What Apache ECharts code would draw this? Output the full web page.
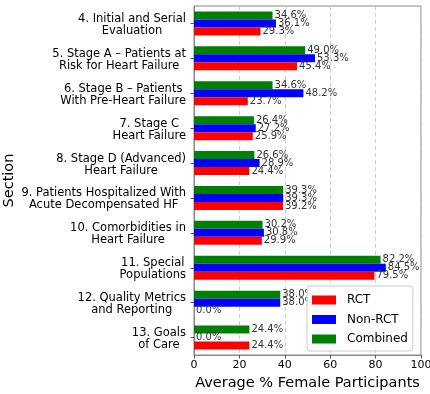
<!DOCTYPE html>
<html><head><meta charset="utf-8">
<script src="https://cdn.jsdelivr.net/npm/echarts@6/dist/echarts.min.js"></script>
<style>html,body{margin:0;padding:0;background:#fff}#c{width:430px;height:394px}</style>
</head><body><div id="c"></div><script>
const categories = [
  "4. Initial and Serial\nEvaluation",
  "5. Stage A – Patients at\nRisk for Heart Failure",
  "6. Stage B – Patients\nWith Pre-Heart Failure",
  "7. Stage C\nHeart Failure",
  "8. Stage D (Advanced)\nHeart Failure",
  "9. Patients Hospitalized With\nAcute Decompensated HF",
  "10. Comorbidities in\nHeart Failure",
  "11. Special\nPopulations",
  "12. Quality Metrics\nand Reporting",
  "13. Goals\nof Care"
];
const rct      = [29.3, 45.4, 23.7, 25.9, 24.4, 39.2, 29.9, 79.5, 0.0, 24.4];
const nonRct   = [36.1, 53.3, 48.2, 27.2, 28.9, 39.3, 30.8, 84.5, 38.0, 0.0];
const combined = [34.6, 49.0, 34.6, 26.4, 26.6, 39.3, 30.2, 82.2, 38.0, 24.4];
const seriesNames = ["RCT", "Non-RCT", "Combined"];
const xTicks = [0, 20, 40, 60, 80, 100];

const FONT = "DejaVu Sans";
function mk(name, data, color) {
  return {
    name: name, type: "bar", data: data,
    barWidth: 8, barGap: "0%",
    itemStyle: { color: color },
    label: {
      show: true, position: "right", distance: 2,
      fontFamily: FONT, fontSize: 10, color: "#333",
      formatter: p => p.value.toFixed(1) + "%"
    }
  };
}
const chart = echarts.init(document.getElementById("c"), null, { renderer: "canvas" });
chart.setOption({
  animation: false,
  backgroundColor: "#fff",
  grid: { left: 194, right: 9, top: 6, bottom: 39, show: true, borderColor: "#888", borderWidth: 1,
          containLabel: false, outerBoundsMode: "none" },
  xAxis: {
    type: "value", min: xTicks[0], max: xTicks[xTicks.length - 1], interval: 20,
    name: "Average % Female Participants", nameLocation: "middle", nameGap: 19,
    nameTextStyle: { fontFamily: FONT, fontSize: 14.5, color: "#000" },
    axisLine: { show: true, lineStyle: { color: "#888" } },
    axisTick: { show: true, length: 3.5, lineStyle: { color: "#555" } },
    axisLabel: { fontFamily: FONT, fontSize: 11, color: "#000", margin: 5 },
    splitLine: { show: true, lineStyle: { color: "#ccc", type: [4, 3] } }
  },
  yAxis: {
    type: "category", data: categories, inverse: true,
    name: "Section", nameLocation: "middle", nameGap: 177, nameRotate: 90,
    nameMoveOverlap: false,
    nameTextStyle: { fontFamily: FONT, fontSize: 14.5, color: "#000" },
    axisLine: { show: true, lineStyle: { color: "#888" } },
    axisTick: { show: true, alignWithLabel: true, length: 3.5, lineStyle: { color: "#555" } },
    axisLabel: {
      margin: 8, fontFamily: FONT, fontSize: 11.5, color: "#000",
      formatter: v => v.split("\n").map(s => "{a|" + s + "}").join("\n"),
      rich: { a: { align: "center", fontFamily: FONT, fontSize: 11.5, lineHeight: 12, color: "#000", padding: [3, 0, 0, 0] } }
    }
  },
  legend: {
    data: seriesNames, orient: "vertical", left: 307, top: 286,
    padding: [8, 5, 6, 5], itemGap: 7.5, itemWidth: 24, itemHeight: 9, icon: "rect",
    borderColor: "#ccc", borderWidth: 1, borderRadius: 3, backgroundColor: "rgba(255,255,255,0.85)",
    textStyle: { fontFamily: FONT, fontSize: 12, color: "#000", padding: [0, 0, 0, 6] }
  },
  series: [
    mk(seriesNames[2], combined, "#008000"),
    mk(seriesNames[1], nonRct, "#0000ff"),
    mk(seriesNames[0], rct, "#ff0000")
  ]
});
</script></body></html>
